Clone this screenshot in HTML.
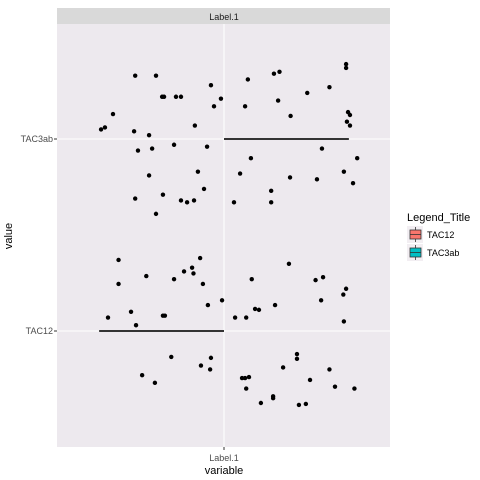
<!DOCTYPE html>
<html><head><meta charset="utf-8"><style>
body{margin:0;background:#fff;}
svg{display:block;font-family:"Liberation Sans",sans-serif;}
</style></head><body>
<svg id="chart" width="480" height="480"></svg>
<script>
const groupTop_x=[0.68,0.755,0.777,0.784,0.827,0.845,0.953,0.989,0.964,0.60,0.571,0.557,0.676,0.73,0.895,0.69,0.741,0.82,0.939,0.73,0.906,0.928,0.68,0.78,0.845,0.867,0.892,0.755,
1.086,1.18,1.20,1.44,1.44,1.38,1.30,1.195,1.076,1.24,1.447,1.454,1.443,1.454,1.353,1.48,1.097,1.058,1.238,1.335,1.432,1.465,1.17,1.17,1.036];
const groupTop_y=[2.33,2.33,2.22,2.22,2.22,2.22,2.28,2.21,2.17,2.13,2.06,2.05,2.04,2.02,2.07,1.94,1.95,1.97,1.96,1.81,1.83,1.74,1.69,1.71,1.68,1.67,1.68,1.61,
2.31,2.34,2.35,2.39,2.37,2.27,2.24,2.20,2.17,2.12,2.14,2.125,2.09,2.07,1.95,1.90,1.90,1.82,1.80,1.79,1.83,1.77,1.73,1.67,1.67];
const groupBot_x=[0.62,0.62,0.72,0.82,0.856,0.885,0.914,0.89,0.924,0.942,0.993,0.665,0.582,0.683,0.78,0.787,0.81,0.705,0.751,0.917,0.953,0.95,
1.234,1.10,1.33,1.357,1.44,1.43,1.35,1.184,1.112,1.126,1.04,1.08,1.432,1.263,1.263,1.213,1.38,1.065,1.076,1.09,1.31,1.08,1.40,1.47,1.177,1.177,1.133,1.27,1.295];
const groupBot_y=[1.37,1.245,1.286,1.27,1.31,1.33,1.38,1.30,1.245,1.135,1.16,1.10,1.07,1.03,1.08,1.08,0.865,0.77,0.73,0.82,0.86,0.80,
1.35,1.27,1.265,1.28,1.22,1.19,1.16,1.135,1.115,1.11,1.07,1.07,1.05,0.88,0.855,0.81,0.80,0.755,0.755,0.76,0.745,0.70,0.71,0.70,0.66,0.65,0.625,0.615,0.62];
const categoriesY=["TAC12","TAC3ab"];
const yTickValues=[1,2];
const xTickLabels=["Label.1"];
const medianStart=[0.55,1.0];
const medianEnd=[1.0,1.45];
const medianY=[1,2];

const svg=document.getElementById('chart');
const NS='http://www.w3.org/2000/svg';
const PL=57,PR=390,PT=24,PB=447;
function xS(v){return 224+(v-1)*277.5;}
function yS(v){return 331-(v-1)*192;}
function mk(tag,attrs,txt){const e=document.createElementNS(NS,tag);for(const k in attrs)e.setAttribute(k,attrs[k]);if(txt!==undefined)e.textContent=txt;svg.appendChild(e);return e;}

let e=mk('rect',{x:PL,y:8,width:PR-PL,height:16,fill:'#D9D9D9'});


e=mk('text',{x:224,y:20,'text-anchor':'middle','font-size':9,fill:'#1A1A1A'},'Label.1');


e=mk('rect',{x:PL,y:PT,width:PR-PL,height:PB-PT,fill:'#EDE9EE'});


e=mk('line',{x1:224,x2:224,y1:PT,y2:PB,stroke:'#fff','stroke-width':1.1});


yTickValues.forEach((v,i)=>{
  let g=mk('line',{x1:PL,x2:PR,y1:yS(v),y2:yS(v),stroke:'#fff','stroke-width':1.1});
  
  
  let t=mk('line',{x1:PL-3,x2:PL,y1:yS(v),y2:yS(v),stroke:'#333'});
  
  
  let l=mk('text',{x:PL-4,y:yS(v)+3,'text-anchor':'end','font-size':9,fill:'#4D4D4D'},categoriesY[i]);
  
  
});
xTickLabels.forEach((s,i)=>{
  let t=mk('line',{x1:xS(i+1),x2:xS(i+1),y1:PB,y2:PB+3,stroke:'#333'});
  
  
  let l=mk('text',{x:xS(i+1),y:461,'text-anchor':'middle','font-size':9,fill:'#4D4D4D'},s);
  
  
});
medianY.forEach((v,i)=>{
  let m=mk('line',{x1:xS(medianStart[i]),x2:xS(medianEnd[i]),y1:yS(v),y2:yS(v),stroke:'#333','stroke-width':2});
  
  
});
function pts(xs,ys,name){xs.forEach((x,i)=>{
  let c=mk('circle',{cx:xS(x),cy:yS(ys[i]),r:2.2,fill:'#000'});
  
  
});}
pts(groupTop_x,groupTop_y,'point-tac3ab');
pts(groupBot_x,groupBot_y,'point-tac12');

e=mk('text',{x:224,y:474,'text-anchor':'middle','font-size':11,fill:'#000'},'variable');


e=mk('text',{x:12,y:236,'text-anchor':'middle','font-size':11,fill:'#000',transform:'rotate(-90 12 236)'},'value');


e=mk('text',{x:407,y:221,'font-size':11,fill:'#000'},'Legend_Title');


const legendColors=['#F8766D','#00BFC4'];
categoriesY.forEach((s,i)=>{
  const y=226+i*18;
  let bg=mk('rect',{x:407,y:y,width:16,height:17,fill:'#F2EEF2'});
  
  
  let b=mk('rect',{x:410,y:y+4,width:11,height:9,fill:legendColors[i],stroke:'#333','stroke-width':0.8});
  
  
  let ln=mk('line',{x1:410,x2:421,y1:y+8.5,y2:y+8.5,stroke:'#333','stroke-width':0.8});
  
  
  let w1=mk('line',{x1:415.5,x2:415.5,y1:y+1,y2:y+4,stroke:'#333','stroke-width':0.8});
  
  
  let w2=mk('line',{x1:415.5,x2:415.5,y1:y+13,y2:y+16,stroke:'#333','stroke-width':0.8});
  
  
  let t=mk('text',{x:427,y:y+12,'font-size':9,fill:'#000'},s);
  
  
});
</script>
</body></html>
